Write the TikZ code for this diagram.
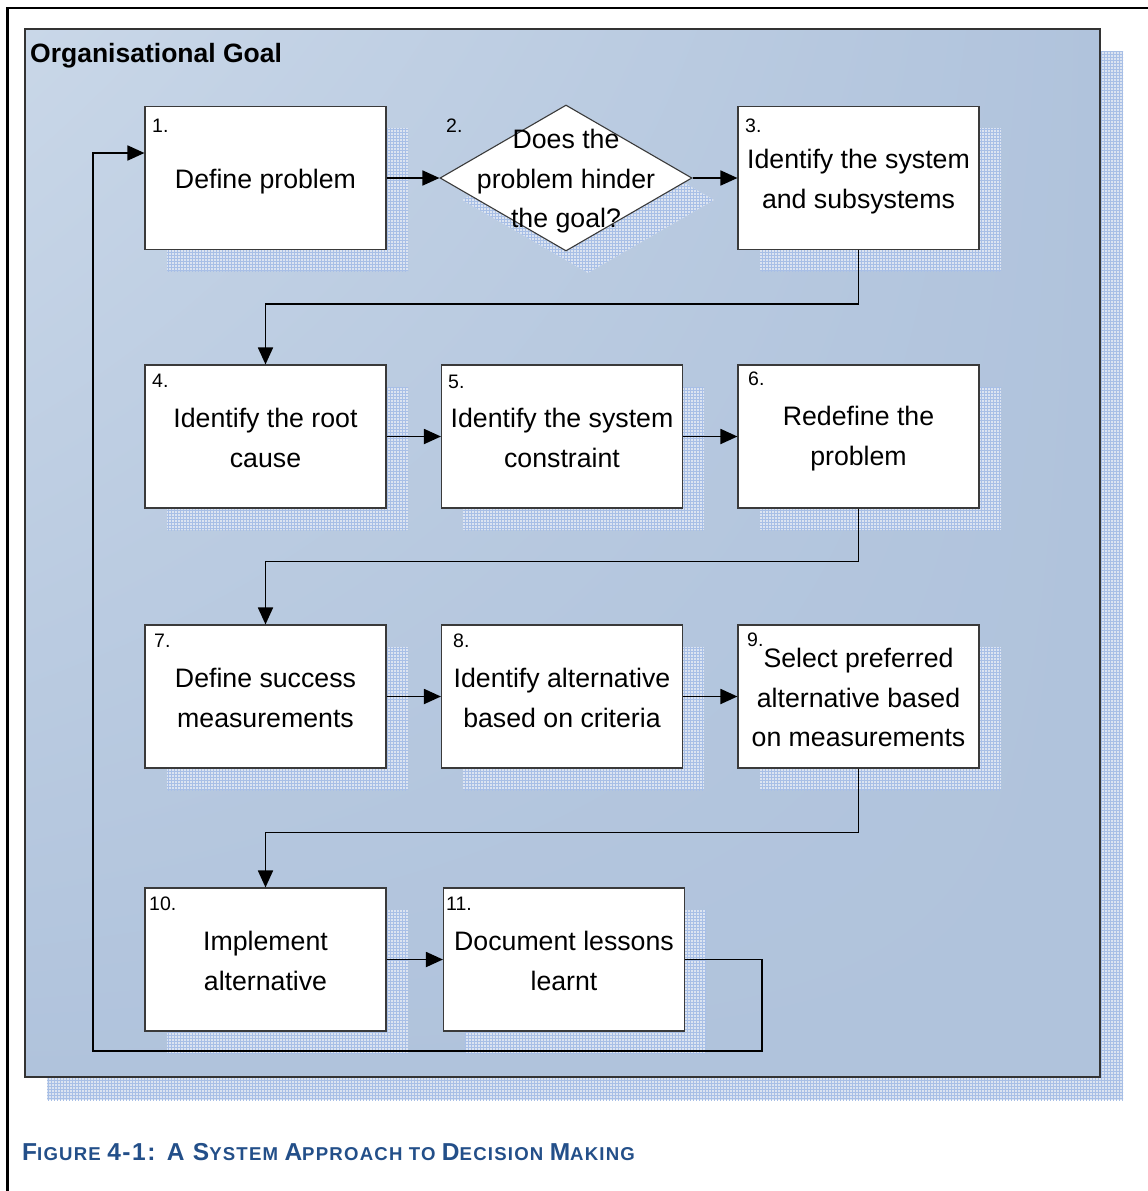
\documentclass[tikz,border=0pt]{standalone}
\usepackage{fontspec}
\setmainfont{Liberation Sans}
\usetikzlibrary{arrows.meta,patterns,shapes.geometric,shadings}

\definecolor{panelA}{HTML}{C9D7E8}
\definecolor{panelB}{HTML}{B0C3DC}
\definecolor{shadowbg}{HTML}{DCE4F1}
\definecolor{shadowgrid}{HTML}{A8BFE6}
\definecolor{captionblue}{HTML}{234F89}
\definecolor{boxedge}{HTML}{3A3A3A}

% caption in hand-made small capitals
\newcommand{\capbig}[1]{{\fontsize{24.5}{24.5}\selectfont #1}}
\newcommand{\capsmall}[1]{{\fontsize{18.6}{18.6}\selectfont #1}}

\tikzset{
  stepbox/.style={draw=boxedge, line width=1.1pt, fill=white, inner sep=0pt,
    minimum width=241pt, minimum height=143pt},
  decbox/.style={diamond, draw=boxedge, line width=1.1pt, fill=white, inner sep=0pt,
    minimum width=252pt, minimum height=146pt},
  hatch/.style={fill=shadowbg, postaction={pattern=grid, pattern color=shadowgrid}},
  boxtext/.style={align=center, font=\fontsize{26.7}{39.5}\selectfont, inner sep=0pt},
  numtext/.style={anchor=west, font=\fontsize{19.5}{19.5}\selectfont, inner sep=0pt},
  conn/.style={line width=1.8pt, -{Triangle[length=17pt,width=15pt]}},
}

\begin{document}
\begin{tikzpicture}[x=1pt,y=-1pt]
\useasboundingbox (0,0) rectangle (1148,1191);
\fill[white] (0,0) rectangle (1148,1191);

% page frame
\draw[line width=2.6pt] (7.5,1191) -- (7.5,8) -- (1148,8);

% goal panel with its shadow
\fill[hatch] (47,51) rectangle (1123,1100);
\shade[upper left=panelA, upper right=panelB, lower left=panelB, lower right=panelB]
  (25,29) rectangle (1100,1077);
\draw[line width=1.2pt, draw=black!80] (25,29) rectangle (1100,1077);
\node[anchor=west, inner sep=0pt, font=\fontsize{26.5}{26.5}\selectfont\bfseries] (goal)
  at (30,56) {Organisational Goal};

% shadows of the steps
\foreach \x/\y in {167/128, 760/128, 167/387, 463/387, 760/387, 167/647, 463/647, 760/647, 167/910, 465/910}
  \fill[hatch] (\x,\y) rectangle ++(241,143);
\fill[hatch] (462,200) -- (588,127) -- (714,200) -- (588,273) -- cycle;

% steps
\node[stepbox] (b1) at (265.5,178) {};
\node[decbox]  (d2) at (566,178) {};
\node[stepbox] (b3) at (858.5,178) {};
\node[stepbox] (b4) at (265.5,436.5) {};
\node[stepbox] (b5) at (562,436.5) {};
\node[stepbox] (b6) at (858.5,436.5) {};
\node[stepbox] (b7) at (265.5,696.5) {};
\node[stepbox] (b8) at (562,696.5) {};
\node[stepbox] (b9) at (858.5,696.5) {};
\node[stepbox] (b10) at (265.5,959.5) {};
\node[stepbox] (b11) at (564,959.5) {};

% step texts
\node[boxtext] (t1) at (265.5,181.5) {Define problem};
\node[boxtext] (t2) at (566,181.5) {Does the\\problem hinder\\the goal?};
\node[boxtext] (t3) at (858.5,181.5) {Identify the system\\and subsystems};
\node[boxtext] (t4) at (265.5,438) {Identify the root\\cause};
\node[boxtext] (t5) at (562,438) {Identify the system\\constraint};
\node[boxtext] (t6) at (858.5,438.5) {Redefine the\\problem};
\node[boxtext] (t7) at (265.5,698) {Define success\\measurements};
\node[boxtext] (t8) at (562,698) {Identify alternative\\based on criteria};
\node[boxtext] (t9) at (858.5,697.5) {Select preferred\\alternative based\\on measurements};
\node[boxtext] (t10) at (265.5,961) {Implement\\alternative};
\node[boxtext] (t11) at (564,961) {Document lessons\\learnt};

% step numbers
\node[numtext] (n1) at (152,126) {1.};
\node[numtext] (n2) at (446,126) {2.};
\node[numtext] (n3) at (745,126) {3.};
\node[numtext] (n4) at (152,381) {4.};
\node[numtext] (n5) at (448,382) {5.};
\node[numtext] (n6) at (748,379) {6.};
\node[numtext] (n7) at (154,641) {7.};
\node[numtext] (n8) at (453,641) {8.};
\node[numtext] (n9) at (747,640) {9.};
\node[numtext] (n10) at (149,904) {10.};
\node[numtext] (n11) at (446,904) {11.};

% connectors
\draw[conn] (b1.east) -- (d2.west);
\draw[conn] (d2.east) -- (b3.west);
\draw[conn] (b3.south) -- ++(0,54) -| (b4.north);
\draw[conn] (b4.east) -- (b5.west);
\draw[conn] (b5.east) -- (b6.west);
\draw[conn] (b6.south) -- ++(0,53) -| (b7.north);
\draw[conn] (b7.east) -- (b8.west);
\draw[conn] (b8.east) -- (b9.west);
\draw[conn] (b9.south) -- ++(0,64) -| (b10.north);
\draw[conn] (b10.east) -- (b11.west);
\coordinate (loopR) at (762,1051);
\coordinate (loopL) at (93,1051);
\coordinate (in1) at (b1.west |- 0,153);
\draw[conn] (b11.east) -| (loopR) -- (loopL) |- (in1);

% caption
\node[anchor=west, inner sep=0pt, text=captionblue, font=\bfseries\addfontfeature{LetterSpace=6.5}] (caption) at (22,1152)
  {\capbig{F}\capsmall{IGURE }\capbig{4-1: A S}\capsmall{YSTEM }\capbig{A}\capsmall{PPROACH TO }\capbig{D}\capsmall{ECISION }\capbig{M}\capsmall{AKING}};
\end{tikzpicture}
\end{document}
